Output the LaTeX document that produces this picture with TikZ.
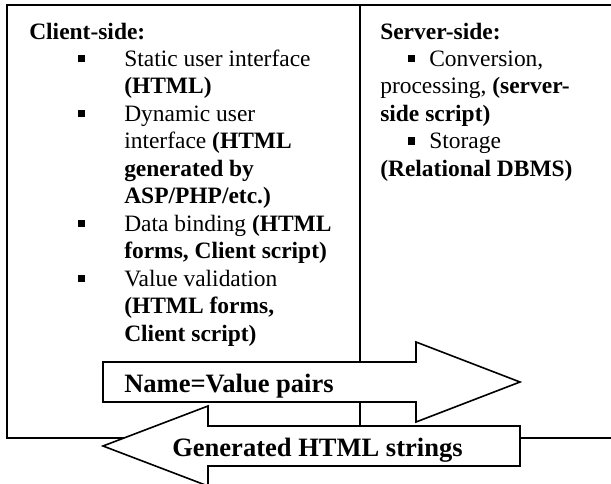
\documentclass[tikz,border=0pt]{standalone}
\usepackage{fontspec}
\setmainfont{Liberation Serif}
\usepackage{xcolor}
\usepackage{tikz}
\usetikzlibrary{positioning}

% small square bullets
\newcommand{\bul}{\raisebox{3.2pt}{\rule{5.4pt}{5.4pt}}}
\newcommand{\itemC}{\makebox[71.25pt][l]{\hspace*{36.5pt}\bul}}
\newcommand{\contC}{\hspace*{71.25pt}}
\newcommand{\itemS}{\makebox[36.75pt][l]{\hspace*{21pt}\bul}}

\begin{document}
\begin{tikzpicture}[x=0.75pt, y=-0.75pt,
		frame/.style={line width=1.3pt},
		arrowbox/.style={draw, line width=1.2pt, fill=white},
		coltext/.style={anchor=base west, inner sep=0pt, font=\fontsize{17.6}{20.6}\selectfont},
		arrowtext/.style={anchor=base west, inner sep=0pt, font=\fontsize{19.9}{23}\selectfont\bfseries}]
		\useasboundingbox (0,0) rectangle (611,483);
		\clip (0,0) rectangle (611,483);

		% 外框与分隔线
		\draw[frame] (7,5) rectangle (620,438);
		\draw[frame] (360,5) -- (360,438);

		% 客户端
		\node[coltext] (client) at (29,39) {\begin{tabular}[t]{@{}l@{}}
			\textbf{Client-side:}\\
			\itemC Static user interface\\
			\contC\textbf{(HTML)}\\
			\itemC Dynamic user\\
			\contC interface \textbf{(HTML}\\
			\contC\textbf{generated by}\\
			\contC\textbf{ASP/PHP/etc.)}\\
			\itemC Data binding \textbf{(HTML}\\
			\contC\textbf{forms, Client script)}\\
			\itemC Value validation\\
			\contC\textbf{(HTML forms,}\\
			\contC\textbf{Client script)}
		\end{tabular}};

		% 服务器端
		\node[coltext] (server) at (380,39) {\begin{tabular}[t]{@{}l@{}}
			\textbf{Server-side:}\\
			\itemS Conversion,\\
			processing, \textbf{(server-}\\
			\textbf{side script)}\\
			\itemS Storage\\
			\textbf{(Relational DBMS)}
		\end{tabular}};

		% 向右箭头
		\draw[arrowbox] (103,362) -- (416,362) -- (416,342) -- (520,382) -- (416,422) -- (416,402) -- (103,402) -- cycle;
		\node[arrowtext] (pairs) at (124,392) {Name=Value pairs};

		% 向左箭头
		\draw[arrowbox] (103,446) -- (208,406) -- (208,426) -- (520,426) -- (520,466) -- (208,466) -- (208,486) -- cycle;
		\node[arrowtext] (strings) at (172,456) {Generated HTML strings};
	\end{tikzpicture}
\end{document}
